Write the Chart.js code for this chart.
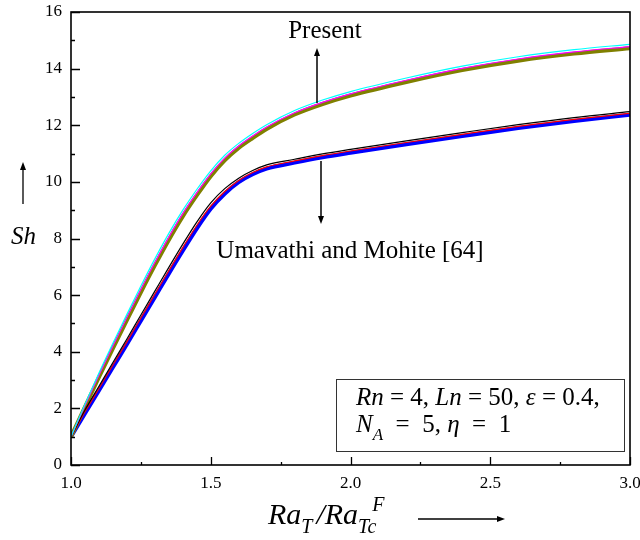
<!DOCTYPE html>
<html>
<head>
<meta charset="utf-8">
<script src="https://cdn.jsdelivr.net/npm/chart.js@4.4.0/dist/chart.umd.min.js"></script>
<style>
  html, body { margin: 0; padding: 0; background: #fff; }
  #wrap { width: 640px; height: 540px; }
</style>
</head>
<body>
<div id="wrap"><canvas id="myChart"></canvas></div>
<script>
// Ra_T / Ra_Tc^F
var xVals = [1.0, 1.05, 1.1, 1.15, 1.2, 1.25, 1.3, 1.35, 1.4, 1.45, 1.5, 1.55, 1.6, 1.65, 1.7, 1.8, 1.9, 2.0, 2.2, 2.4, 2.6, 2.8, 3.0];

// Present
var presentCyan    = [1.0, 2.15, 3.25, 4.3, 5.32, 6.32, 7.28, 8.18, 9.0, 9.73, 10.39, 10.94, 11.36, 11.71, 12.02, 12.52, 12.89, 13.19, 13.67, 14.09, 14.42, 14.67, 14.86];
var presentMagenta = [1.0, 2.1, 3.17, 4.2, 5.21, 6.2, 7.15, 8.05, 8.88, 9.61, 10.28, 10.84, 11.27, 11.62, 11.94, 12.44, 12.81, 13.11, 13.59, 14.01, 14.34, 14.59, 14.78];
var presentOlive   = [1.0, 2.05, 3.1, 4.12, 5.12, 6.1, 7.05, 7.95, 8.78, 9.52, 10.2, 10.76, 11.2, 11.55, 11.87, 12.38, 12.75, 13.05, 13.53, 13.95, 14.28, 14.53, 14.72];

// Umavathi and Mohite [64]
var umaBlack = [1.0, 1.94, 2.78, 3.62, 4.45, 5.3, 6.14, 6.98, 7.8, 8.58, 9.26, 9.76, 10.13, 10.4, 10.6, 10.8, 10.99, 11.15, 11.45, 11.74, 12.02, 12.27, 12.48];
var umaRed   = [1.0, 1.88, 2.7, 3.53, 4.35, 5.19, 6.03, 6.86, 7.68, 8.46, 9.14, 9.66, 10.05, 10.33, 10.53, 10.74, 10.93, 11.09, 11.39, 11.68, 11.96, 12.21, 12.42];
var umaBlue  = [1.0, 1.82, 2.63, 3.45, 4.27, 5.1, 5.93, 6.76, 7.57, 8.35, 9.05, 9.58, 9.99, 10.27, 10.47, 10.68, 10.87, 11.03, 11.33, 11.62, 11.9, 12.15, 12.37];

var xTicks = [1.0, 1.5, 2.0, 2.5, 3.0];
var yTicks = [0, 2, 4, 6, 8, 10, 12, 14, 16];

var SERIF = '"Liberation Serif", "DejaVu Serif", serif';

function pts(ys) {
  return xVals.map(function (x, i) { return { x: x, y: ys[i] }; });
}

function line(ys, color, width) {
  return {
    data: pts(ys),
    borderColor: color,
    borderWidth: width,
    pointRadius: 0,
    fill: false,
    cubicInterpolationMode: 'monotone'
  };
}

// rich text: runs of {t, it, sub, sup}
function drawRuns(ctx, x, y, size, runs) {
  runs.forEach(function (r) {
    var s = (r.sub || r.sup) ? Math.round(size * 0.68) : size;
    var dy = r.sub ? size * 0.3 : (r.sup ? -size * 0.45 : 0);
    ctx.font = (r.it ? 'italic ' : '') + s + 'px ' + SERIF;
    ctx.fillText(r.t, x, y + dy);
    x += ctx.measureText(r.t).width + (r.gap || 0);
  });
}

function arrow(ctx, x1, y1, x2, y2) {
  var a = Math.atan2(y2 - y1, x2 - x1), h = 8, w = 3;
  ctx.beginPath();
  ctx.moveTo(x1, y1);
  ctx.lineTo(x2 - Math.cos(a) * h, y2 - Math.sin(a) * h);
  ctx.stroke();
  ctx.beginPath();
  ctx.moveTo(x2, y2);
  ctx.lineTo(x2 - Math.cos(a) * h - Math.sin(a) * w, y2 - Math.sin(a) * h + Math.cos(a) * w);
  ctx.lineTo(x2 - Math.cos(a) * h + Math.sin(a) * w, y2 - Math.sin(a) * h - Math.cos(a) * w);
  ctx.closePath();
  ctx.fill();
}

var decor = {
  id: 'decor',
  afterDatasetsDraw: function (chart) {
    var ctx = chart.ctx, a = chart.chartArea;
    var xs = chart.scales.x, ys = chart.scales.y;
    ctx.save();
    ctx.strokeStyle = '#000';
    ctx.fillStyle = '#000';

    // frame
    ctx.lineWidth = 1.6;
    ctx.strokeRect(a.left, a.top, a.right - a.left, a.bottom - a.top);

    // inward ticks
    ctx.lineWidth = 1.3;
    ctx.beginPath();
    for (var v = 1.0; v <= 3.001; v += 0.25) {
      var px = Math.round(xs.getPixelForValue(v)) + 0.5;
      var major = Math.abs(v * 2 - Math.round(v * 2)) < 1e-6;
      ctx.moveTo(px, a.bottom);
      ctx.lineTo(px, a.bottom - (major ? 8 : 3));
    }
    for (var k = 0; k <= 16; k++) {
      var py = Math.round(ys.getPixelForValue(k)) + 0.5;
      ctx.moveTo(a.left, py);
      ctx.lineTo(a.left + (k % 2 === 0 ? 9 : 4), py);
    }
    ctx.stroke();

    // annotation arrows
    ctx.lineWidth = 1.5;
    arrow(ctx, 317, 103, 317, 48);
    arrow(ctx, 321, 161, 321, 224);

    ctx.textBaseline = 'alphabetic';
    ctx.textAlign = 'center';
    ctx.font = '25px ' + SERIF;
    ctx.fillText('Present', 325, 38);
    ctx.fillText('Umavathi and Mohite [64]', 350, 258);

    // parameter box
    ctx.lineWidth = 1;
    ctx.strokeStyle = '#333';
    ctx.strokeRect(336.5, 379.5, 288, 72);
    ctx.textAlign = 'left';
    drawRuns(ctx, 356, 405, 25, [
      { t: 'Rn', it: true }, { t: ' = 4, ' }, { t: 'Ln', it: true }, { t: ' = 50, ' },
      { t: '\u03b5', it: true }, { t: ' = 0.4,' }
    ]);
    drawRuns(ctx, 356, 432, 25, [
      { t: 'N', it: true }, { t: 'A', it: true, sub: true }, { t: '  =  5, ' },
      { t: '\u03b7', it: true }, { t: '  =  1' }
    ]);

    // y title
    ctx.font = 'italic 25px ' + SERIF;
    ctx.fillText('Sh', 11, 244);
    ctx.strokeStyle = '#000';
    ctx.lineWidth = 1.3;
    arrow(ctx, 23, 204, 23, 162);

    // x title
    drawRuns(ctx, 268, 524, 30, [
      { t: 'Ra', it: true }, { t: 'T', it: true, sub: true, gap: 4 }, { t: '/Ra', it: true },
      { t: 'Tc', it: true, sub: true, gap: -4 }, { t: 'F', it: true, sup: true }
    ]);
    arrow(ctx, 418, 519, 505, 519);

    ctx.restore();
  }
};

var config = {
  type: 'line',
  data: {
    datasets: [
      line(presentCyan, '#00ffff', 1.2),
      line(presentMagenta, '#ff00ff', 1.2),
      line(umaBlack, '#000000', 1.2),
      line(umaRed, '#ff0000', 1.2),
      line(presentOlive, '#808000', 4),
      line(umaBlue, '#0000ff', 4)
    ]
  },
  options: {
    responsive: true,
    maintainAspectRatio: false,
    animation: false,
    layout: { padding: { left: 0, right: 10, top: 12, bottom: 0 } },
    plugins: { legend: { display: false }, tooltip: { enabled: false } },
    scales: {
      x: {
        type: 'linear',
        min: 1, max: 3,
        afterFit: function (s) { s.height = 75; s.paddingLeft = 0; s.paddingRight = 0; },
        afterBuildTicks: function (s) { s.ticks = xTicks.map(function (v) { return { value: v }; }); },
        grid: { display: false, drawTicks: false },
        border: { display: false },
        ticks: {
          padding: 8,
          color: '#000',
          font: { family: SERIF, size: 17 },
          maxRotation: 0,
          callback: function (v) { return v.toFixed(1); }
        }
      },
      y: {
        min: 0, max: 16,
        afterFit: function (s) { s.width = 71; s.paddingTop = 0; s.paddingBottom = 0; },
        afterBuildTicks: function (s) { s.ticks = yTicks.map(function (v) { return { value: v }; }); },
        grid: { display: false, drawTicks: false },
        border: { display: false },
        ticks: {
          padding: 9,
          color: '#000',
          font: { family: SERIF, size: 17 }
        }
      }
    }
  },
  plugins: [decor]
};

var myChart = new Chart(document.getElementById('myChart').getContext('2d'), config);
</script>
</body>
</html>
